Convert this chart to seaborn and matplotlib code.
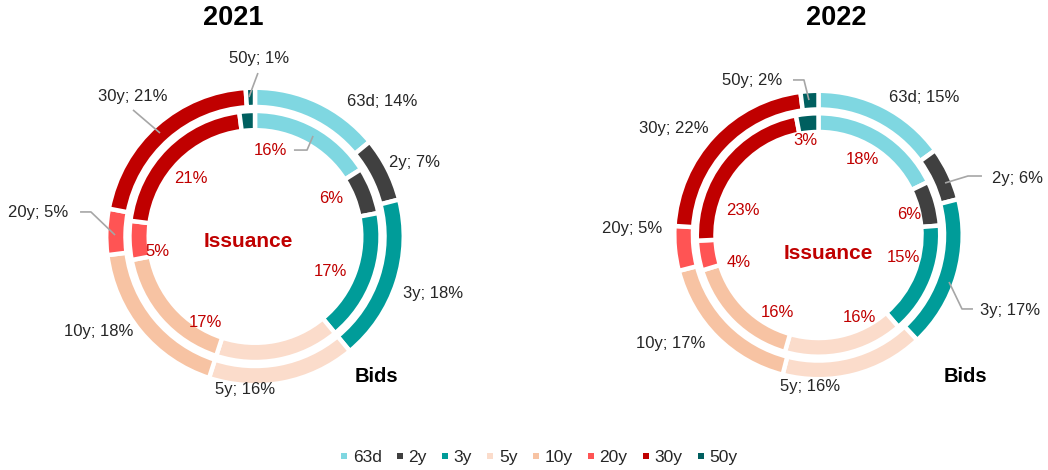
import seaborn as sns
import matplotlib.pyplot as plt
from matplotlib.lines import Line2D


TENORS          = ["63d", "2y", "3y", "5y", "10y", "20y", "30y", "50y"]
BIDS_2021       = [14, 7, 18, 16, 18, 5, 21, 1]
ISSUANCE_2021   = [16, 6, 17, 16, 17, 5, 21, 2]
BIDS_2022       = [15, 6, 17, 16, 17, 5, 22, 2]
ISSUANCE_2022   = [18, 6, 15, 16, 16, 4, 23, 3]
YEARS           = ["2021", "2022"]

PALETTE = sns.color_palette([
    "#7fd7e1", "#404040", "#009c99", "#fbdccb",
    "#f7c3a3", "#ff5454", "#c00000", "#005f5f"
])

# label anchors, in outer-radius units from each donut centre (None = no label)
OUTER_POS = {
    "2021": [(0.867, 0.918), (1.085, 0.505), (1.208, -0.389), (-0.068, -1.041),
             (-1.065, -0.648), (-1.475, 0.160), (-0.833, 0.949), (0.025, 1.212)],
    "2022": [(0.740, 0.965), (1.400, 0.393), (1.344, -0.533), (-0.060, -1.060),
             (-1.035, -0.761), (-1.305, 0.046), (-1.018, 0.744), (-0.463, 1.081)],
}
INNER_POS = {
    "2021": [(0.102, 0.584), (0.515, 0.256), (0.515, -0.235), None,
             (-0.334, -0.587), (-0.662, -0.099), (-0.437, 0.392), None],
    "2022": [(0.309, 0.533), (0.639, 0.144), (0.593, -0.158), (0.288, -0.582),
             (-0.288, -0.547), (-0.558, -0.193), (-0.533, 0.175), (-0.095, 0.660)],
}
LEADERS = {
    "2021": [[(0.020, 1.112), (-0.041, 0.949)],
             [(-0.830, 0.861), (-0.646, 0.704)],
             [(-1.190, 0.167), (-1.116, 0.167), (-0.952, 0.010)],
             [(0.265, 0.588), (0.354, 0.588), (0.395, 0.684)]],
    "2022": [[(1.147, 0.414), (1.049, 0.414), (0.888, 0.365)],
             [(1.084, -0.519), (1.007, -0.519), (0.916, -0.330)],
             [(-0.179, 1.088), (-0.102, 1.088), (-0.067, 0.947)]],
}
TITLE_X     = {"2021": -0.150, "2022": 0.123}
ISSUANCE_XY = {"2021": (-0.048, -0.031), "2022": (0.067, -0.133)}
BIDS_XY     = {"2021": (0.827, -0.952), "2022": (1.032, -0.996)}

# pixel layout: (axes left px, donut centre x px, centre y px, radius px)
AXES_PX = {"2021": (0, 255, 236.5, 147.0), "2022": (524, 818.5, 235.0, 142.5)}

W, H, AX_W, AX_H = 1048, 470, 524, 440

sns.set_theme(style="white")
plt.rcParams["font.family"] = ["Liberation Sans", "DejaVu Sans"]

fig = plt.figure(figsize=(W / 100, H / 100), dpi=100)

ring_props = dict(width=0.131, edgecolor="white", linewidth=3.2)

for year, bids, issuance in zip(YEARS, [BIDS_2021, BIDS_2022], [ISSUANCE_2021, ISSUANCE_2022]):
    left, cx, cy, r = AXES_PX[year]
    ax = fig.add_axes([left / W, (H - AX_H) / H, AX_W / W, AX_H / H])

    ax.pie(bids, radius=1.012, colors=PALETTE, startangle=90,
           counterclock=False, wedgeprops=ring_props)
    ax.pie(issuance, radius=0.854, colors=PALETTE, startangle=90,
           counterclock=False, wedgeprops=ring_props)

    ax.set_aspect("auto")
    ax.set_xlim(-(cx - left) / r, (left + AX_W - cx) / r)
    ax.set_ylim(-(AX_H - cy) / r, cy / r)
    ax.axis("off")

    for pts in LEADERS[year]:
        xs, ys = zip(*pts)
        ax.plot(xs, ys, color="#a6a6a6", lw=1.2, solid_capstyle="butt")

    for tenor, v, pos in zip(TENORS, bids, OUTER_POS[year]):
        ax.text(pos[0], pos[1], f"{tenor}; {v}%", ha="center", va="center",
                fontsize=12, color="#262626")

    for v, pos in zip(issuance, INNER_POS[year]):
        if pos is None:
            continue
        ax.text(pos[0], pos[1], f"{v}%", ha="center", va="center",
                fontsize=12, color="#c00000")

    ax.text(*ISSUANCE_XY[year], "Issuance", ha="center", va="center",
            fontsize=15, fontweight="bold", color="#c00000")
    ax.text(*BIDS_XY[year], "Bids", ha="center", va="center",
            fontsize=14.5, fontweight="bold", color="black")
    ax.text(TITLE_X[year], (cy - 18) / r, year, ha="center", va="center",
            fontsize=19.5, fontweight="bold", color="black")

handles = [Line2D([], [], marker="s", ls="none", markersize=4.5,
                  markeredgewidth=0, color=c) for c in PALETTE]
fig.legend(
    handles, TENORS,
    loc             ="center",
    bbox_to_anchor  =(539 / W, 1 - 457 / H),
    ncol            =len(TENORS),
    frameon         =False,
    fontsize        =12.5,
    handlelength    =0.4,
    handletextpad   =0.3,
    columnspacing   =0.85
)

fig.savefig("out.png", dpi=100)
